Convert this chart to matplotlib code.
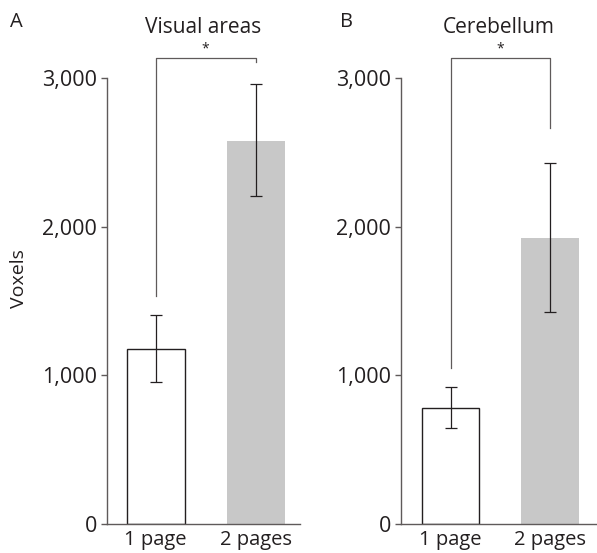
import matplotlib.pyplot as plt

plt.rcParams['font.family'] = ['Open Sans', 'DejaVu Sans']

# Data
conditions = ['1 page', '2 pages']
visual_means = [1177, 2576]
visual_upper = [1408, 2959]
visual_lower = [953, 2206]
cereb_means = [780, 1923]
cereb_upper = [919, 2428]
cereb_lower = [648, 1426]
yticks = [0, 1000, 2000, 3000]
ytick_labels = ['0', '1,000', '2,000', '3,000']

# bracket: (left leg bottom, right leg bottom, bar height)
visual_bracket = (1533, 3105, 3132)
cereb_bracket = (1049, 2663, 3132)

text_col = '#231f20'
axis_col = '#5f5a5a'

fig = plt.figure(figsize=(5.97, 5.53), dpi=100)
W, H = 597, 553


def px_axes(x0, x1, ybot, ytop):
    return fig.add_axes([x0 / W, 1 - ybot / H, (x1 - x0) / W, (ybot - ytop) / H])


ymax = 3300
ytop_px = 524 - ymax / 1000 * 148.7
ax1 = px_axes(107, 300, 524, ytop_px)
ax2 = px_axes(401, 597, 524, ytop_px)


def draw_panel(ax, means, upper, lower, bracket, title, xlim):
    x = [0, 1]
    ax.bar(x[0], means[0], width=0.58, color='white', edgecolor=text_col, linewidth=1.0)
    ax.bar(x[1], means[1], width=0.58, color='#c8c8c8', edgecolor='none')
    for xi, m, u, l in zip(x, means, upper, lower):
        ax.errorbar(xi, m, yerr=[[m - l], [u - m]], fmt='none', ecolor=text_col,
                    elinewidth=0.9, capsize=4, capthick=0.9)
    lb, rb, top = bracket
    ax.plot([0, 0, 1, 1], [lb, top, top, rb], color=axis_col, lw=0.9, clip_on=False)
    ax.text(0.5, top + 10, '*', ha='center', va='bottom', fontsize=10, color=text_col)
    ax.set_xlim(*xlim)
    ax.set_ylim(0, ymax)
    ax.spines[['top', 'right']].set_visible(False)
    ax.spines['left'].set_bounds(0, 3000)
    for s in ['left', 'bottom']:
        ax.spines[s].set_color(axis_col)
        ax.spines[s].set_linewidth(1.0)
    ax.set_yticks(yticks)
    ax.set_yticklabels(ytick_labels)
    ax.set_xticks(x)
    ax.set_xticklabels(conditions)
    ax.tick_params(axis='y', length=4, width=1.0, color=axis_col, labelsize=15.5,
                   labelcolor=text_col, pad=3)
    ax.tick_params(axis='x', length=0, labelsize=14.5, labelcolor=text_col, pad=4)
    ax.set_title(title, fontsize=15, color=text_col, pad=0, y=1.0)


draw_panel(ax1, visual_means, visual_upper, visual_lower, visual_bracket,
           'Visual areas', (-0.485, 1.445))
draw_panel(ax2, cereb_means, cereb_upper, cereb_lower, cereb_bracket,
           'Cerebellum', (-0.497, 1.47))

ax1.set_ylabel('Voxels', fontsize=14, color=text_col, labelpad=10)
fig.text(10 / W, 1 - 22 / H, 'A', fontsize=14.5, color=text_col, va='center')
fig.text(340 / W, 1 - 22 / H, 'B', fontsize=14.5, color=text_col, va='center')

fig.savefig('out.png', dpi=100)
